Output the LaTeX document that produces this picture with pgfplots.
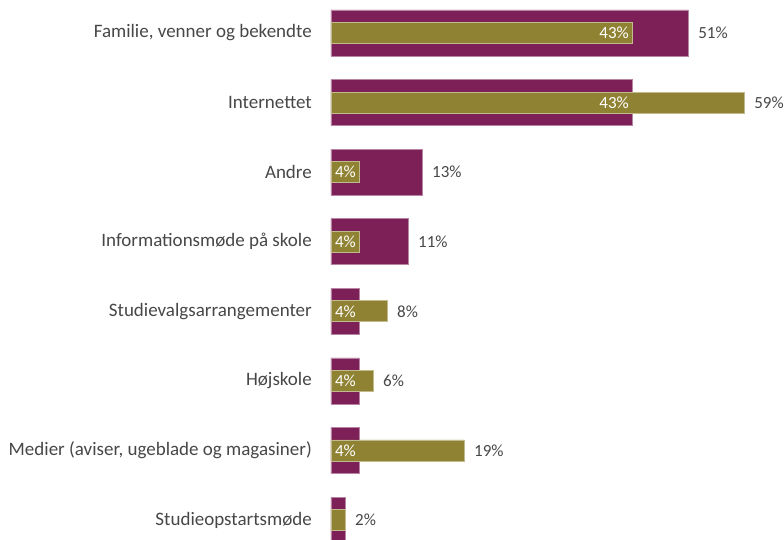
\documentclass[border=0pt]{standalone}
\usepackage{fontspec}
\setmainfont{Carlito}
\usepackage{pgfplots}
\pgfplotsset{compat=1.18}
\definecolor{plum}{HTML}{7E2058}
\definecolor{olivebar}{HTML}{8F8232}
\definecolor{txt}{HTML}{474747}
\begin{document}
\begin{tikzpicture}
\begin{axis}[
  scale only axis, width=453bp, height=540bp,
  xmin=0, xmax=64.7, ymin=-0.474, ymax=7.287, y dir=reverse,
  axis line style={draw=none}, xtick=\empty,
  ytick={0,...,7},
  yticklabels={{Familie, venner og bekendte},Internettet,Andre,{Informationsmøde på skole},Studievalgsarrangementer,Højskole,{Medier (aviser, ugeblade og magasiner)},Studieopstartsmøde},
  major tick length=0pt,
  yticklabel style={font=\fontsize{19bp}{21bp}\selectfont, text=txt, inner sep=0pt, xshift=-19bp},
  /pgf/number format/assume math mode=true,
  clip=false,
]
\addplot[xbar, bar width=46bp, bar shift=0pt, fill=plum, draw=plum!55!white, line width=0.6bp]
  coordinates {(51,0) (43,1) (13,2) (11,3) (4,4) (4,5) (4,6) (2,7)};
\addplot[xbar, bar width=21bp, bar shift=0pt, fill=olivebar, draw=olivebar!55!white, line width=0.6bp]
  coordinates {(43,0) (59,1) (4,2) (4,3) (8,4) (6,5) (19,6) (2,7)};
% inside (white) labels
\addplot[draw=none, mark=none, point meta=explicit,
  nodes near coords={\pgfmathprintnumber[precision=0]{\pgfplotspointmeta}\%},
  every node near coord/.append style={anchor=east, text=white, font=\fontsize{17bp}{19bp}\selectfont, xshift=-3bp, inner sep=0pt}]
  table[meta=m] {
x y m
43 0 43
43 1 43
4 2 4
4 3 4
4 4 4
4 5 4
4 6 4
};
% outside labels
\addplot[draw=none, mark=none, point meta=explicit,
  nodes near coords={\pgfmathprintnumber[precision=0]{\pgfplotspointmeta}\%},
  every node near coord/.append style={anchor=west, text=txt, font=\fontsize{17bp}{19bp}\selectfont, xshift=10bp, inner sep=0pt}]
  table[meta=m] {
x y m
51 0 51
59 1 59
13 2 13
11 3 11
8 4 8
6 5 6
19 6 19
2 7 2
};
\end{axis}
\pgfresetboundingbox
\useasboundingbox ([xshift=-331bp]current axis.south west) rectangle (current axis.north east);
\end{tikzpicture}
\end{document}
